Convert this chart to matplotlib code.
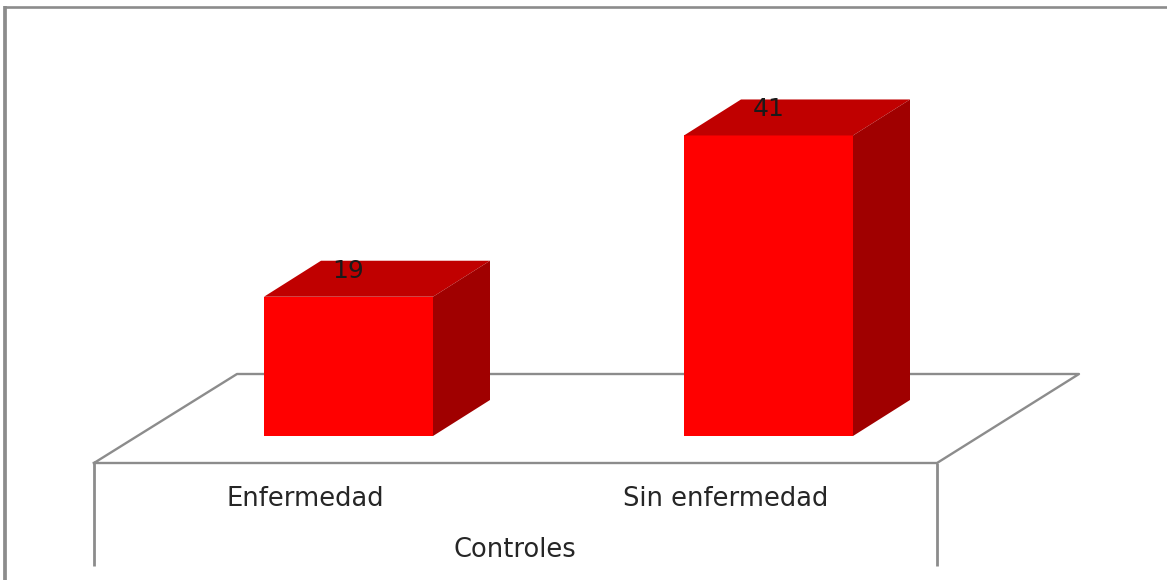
import matplotlib
matplotlib.use('Agg')
import matplotlib.pyplot as plt
from matplotlib.patches import Polygon

categories = ['Enfermedad', 'Sin enfermedad']
values = [19, 41]
axis_title = 'Controles'

plt.rcParams['font.family'] = ['DejaVu Sans']

W, H = 1167, 580
UNIT_X = 420.0   # pixels between categories
UNIT_Y = 7.33    # pixels per count
X0, Y0 = 348.5, 436.0   # where category 0, count 0 sits


def dx(px):
    return (px - X0) / UNIT_X


def dy(py):
    return (Y0 - py) / UNIT_Y


fig = plt.figure(figsize=(W / 100, H / 100), dpi=100)
ax = fig.add_axes([0, 0, 1, 1])
ax.set_xlim(dx(0), dx(W))
ax.set_ylim(dy(H), dy(0))
ax.axis('off')

GREY = '#8c8c8c'

# outer frame, open on the right and at the bottom
ax.plot([dx(5), dx(5)], [dy(H), dy(6)], color=GREY, lw=2.7, solid_capstyle='butt')
ax.plot([dx(3.5), dx(W)], [dy(7.3), dy(7.3)], color=GREY, lw=1.9, solid_capstyle='butt')

# floor and front wall of the 3d box
ax.plot([dx(94), dx(237), dx(1079), dx(937), dx(94)],
        [dy(463), dy(374), dy(374), dy(463), dy(463)], color=GREY, lw=1.7)
ax.plot([dx(94), dx(94)], [dy(463), dy(566)], color=GREY, lw=2.0, solid_capstyle='butt')
ax.plot([dx(937), dx(937)], [dy(463), dy(566)], color=GREY, lw=2.0, solid_capstyle='butt')

# bars: front face from bar(), top and side faces added as polygons
bar_w = 169 / UNIT_X
depth_x = 57 / UNIT_X
depth_y = 36 / UNIT_Y
positions = list(range(len(values)))
ax.bar(positions, values, width=bar_w, color='#ff0000', zorder=3)
for x, v in zip(positions, values):
    l, r = x - bar_w / 2, x + bar_w / 2
    ax.add_patch(Polygon([(l, v), (r, v), (r + depth_x, v + depth_y), (l + depth_x, v + depth_y)],
                         closed=True, fc='#c00000', ec='none', zorder=3))
    ax.add_patch(Polygon([(r, 0), (r + depth_x, depth_y), (r + depth_x, v + depth_y), (r, v)],
                         closed=True, fc='#a00000', ec='none', zorder=3))
    # count sits on the top face, baseline a fixed distance above the front edge
    ax.text(x, v + 19 / UNIT_Y, str(v), ha='center', va='baseline', fontsize=18,
            color='#1a1a1a', zorder=4)

for x, name in zip(positions, categories):
    ax.text(x - 43 / UNIT_X, dy(506), name, ha='center', va='baseline',
            fontsize=18.5, color='#262626')
ax.text(dx(515), dy(557), axis_title, ha='center', va='baseline', fontsize=18.5, color='#262626')

fig.savefig('out.png', dpi=100)
